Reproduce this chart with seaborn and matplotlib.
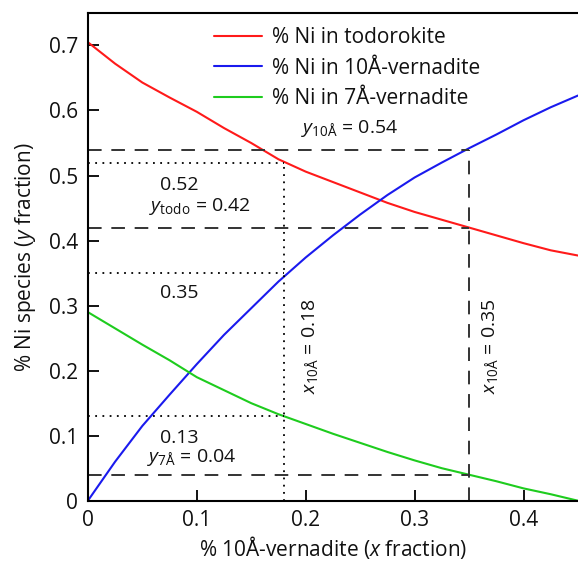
import matplotlib
matplotlib.use("Agg")
import matplotlib.pyplot as plt
import pandas as pd
import seaborn as sns

# Data
x_frac = [0, 0.025, 0.05, 0.075, 0.1, 0.125, 0.15, 0.175, 0.2, 0.225,
          0.25, 0.275, 0.3, 0.325, 0.35, 0.375, 0.4, 0.425, 0.45]
ni_todo = [0.705, 0.672, 0.643, 0.62, 0.598, 0.573, 0.55, 0.525, 0.506, 0.49,
           0.474, 0.458, 0.444, 0.432, 0.42, 0.408, 0.396, 0.385, 0.377]
ni_10a = [0.0, 0.06, 0.115, 0.163, 0.21, 0.255, 0.296, 0.337, 0.374, 0.408,
          0.44, 0.47, 0.497, 0.52, 0.542, 0.563, 0.585, 0.605, 0.623]
ni_7a = [0.29, 0.265, 0.24, 0.216, 0.19, 0.17, 0.15, 0.133, 0.118, 0.103,
         0.089, 0.075, 0.062, 0.05, 0.04, 0.03, 0.019, 0.01, 0.0]
series_names = ["% Ni in todorokite", "% Ni in 10Å-vernadite", "% Ni in 7Å-vernadite"]
series_colors = ["#ff1a1a", "#1a1aee", "#1ecc1e"]

# reading points
x_dot, y_dot = 0.18, [0.52, 0.35, 0.13]
x_dash, y_dash = 0.35, [0.54, 0.42, 0.04]

sns.set_style("ticks")
plt.rcParams["font.family"] = ["Open Sans", "DejaVu Sans"]
plt.rcParams["text.color"] = "#111111"
plt.rcParams["axes.labelcolor"] = "#111111"
plt.rcParams["mathtext.fontset"] = "custom"
plt.rcParams["mathtext.rm"] = "Open Sans"
plt.rcParams["mathtext.it"] = "Open Sans:italic"

df = pd.DataFrame({
    "x": x_frac * 3,
    "y": ni_todo + ni_10a + ni_7a,
    "species": [n for n in series_names for _ in x_frac],
})

fig = plt.figure(figsize=(5.78, 5.62), dpi=100)
ax = fig.add_axes([0.152, 0.109, 0.848, 0.868])

sns.lineplot(data=df, x="x", y="y", hue="species", palette=series_colors,
             hue_order=series_names, linewidth=1.5, ax=ax)

# reference lines
for yv in y_dot:
    ax.plot([0, x_dot], [yv, yv], color="black", linestyle=(0, (1, 3)), linewidth=1.3)
ax.plot([x_dot, x_dot], [0, y_dot[0]], color="black", linestyle=(0, (1, 3)), linewidth=1.3)
for yv in y_dash:
    ax.plot([0, x_dash], [yv, yv], color="#333333", linestyle=(0, (7, 5)), linewidth=1.4)
ax.plot([x_dash, x_dash], [0, y_dash[0]], color="#333333", linestyle=(0, (7, 5)), linewidth=1.4)

fs = 14
ax.text(0.084, 0.486, "0.52", ha="center", va="center", fontsize=fs)
ax.text(0.103, 0.452, r"$\it{y}_{\rm todo}$ = 0.42", ha="center", va="center", fontsize=fs)
ax.text(0.084, 0.319, "0.35", ha="center", va="center", fontsize=fs)
ax.text(0.084, 0.096, "0.13", ha="center", va="center", fontsize=fs)
ax.text(0.095, 0.066, r"$\it{y}_{\rm 7Å}$ = 0.04", ha="center", va="center", fontsize=fs)
ax.text(0.24, 0.572, r"$\it{y}_{\rm 10Å}$ = 0.54", ha="center", va="center", fontsize=fs)
ax.text(0.204, 0.237, r"$\it{x}_{\rm 10Å}$ = 0.18", ha="center", va="center",
        rotation=90, fontsize=fs)
ax.text(0.369, 0.237, r"$\it{x}_{\rm 10Å}$ = 0.35", ha="center", va="center",
        rotation=90, fontsize=fs)

ax.set_xlim(0, 0.45)
ax.set_ylim(0, 0.75)
ax.set_xticks([0, 0.1, 0.2, 0.3, 0.4])
ax.set_xticklabels(["0", "0.1", "0.2", "0.3", "0.4"])
ax.set_yticks([0, 0.1, 0.2, 0.3, 0.4, 0.5, 0.6, 0.7])
ax.set_yticklabels(["0", "0.1", "0.2", "0.3", "0.4", "0.5", "0.6", "0.7"])
ax.tick_params(direction="in", length=8, width=1.3, labelsize=15, colors="black",
               labelcolor="#111111", pad=7)
ax.set_xlabel(r"% 10Å-vernadite ($\it{x}$ fraction)", fontsize=15, labelpad=2)
ax.set_ylabel(r"% Ni species ($\it{y}$ fraction)", fontsize=15, labelpad=8)
for side in ["left", "bottom", "top"]:
    ax.spines[side].set_linewidth(1.5)
    ax.spines[side].set_color("black")
ax.spines["right"].set_visible(False)

leg = ax.legend(loc="upper left", bbox_to_anchor=(0.219, 1.009), frameon=False,
                fontsize=15, handlelength=2.3, handletextpad=0.5, labelspacing=0.45)
for line in leg.get_lines():
    line.set_linewidth(1.5)

fig.savefig("out.png", dpi=100)
